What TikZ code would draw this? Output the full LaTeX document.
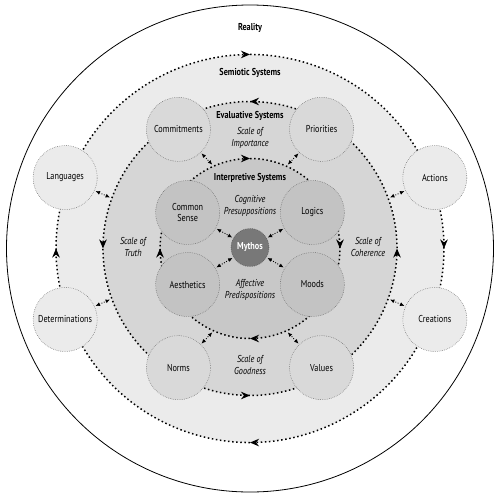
\documentclass[tikz,border=0pt]{standalone}
\usepackage{fontspec}
\setmainfont[FakeStretch=0.82]{PT Sans}
\usetikzlibrary{arrows.meta,decorations.markings}

\definecolor{semiofill}{HTML}{EBEBEB}
\definecolor{evalfill}{HTML}{D6D6D6}
\definecolor{evalnode}{HTML}{D9D9D9}
\definecolor{interfill}{HTML}{C8C8C8}
\definecolor{internode}{HTML}{C3C3C3}
\definecolor{mythfill}{HTML}{787878}

\begin{document}
\begin{tikzpicture}[x=1pt, y=1pt,
  every node/.style={font=\fontsize{10}{11}\selectfont, align=center},
  ring/.style={line width=1.5pt, dash pattern=on 1.5pt off 2.6pt, postaction={decorate},
    decoration={markings, mark=at position 0.5 with {\arrow{Stealth[length=9pt,width=7.5pt]}}}},
  bubble/.style={circle, draw=black!60, line width=0.5pt, dash pattern=on 0.6pt off 1.2pt,
    minimum size=64pt, inner sep=0pt},
  link/.style={{Latex[length=4.5pt,width=4pt]}-{Latex[length=4.5pt,width=4pt]},
    line width=0.9pt, dash pattern=on 0.9pt off 1.6pt, shorten <=1pt, shorten >=1pt},
  title/.style={font=\fontsize{10}{11}\selectfont\bfseries},
  scale label/.style={font=\fontsize{10}{12}\selectfont\itshape}]
	\useasboundingbox (-250,-250.5) rectangle (250,248.5);
	% layers
	\draw[line width=0.8pt] (0,0) circle[radius=243.5];
	\fill[semiofill] (0,0) circle[radius=194];
	\fill[evalfill] (0,0) circle[radius=147];
	\fill[interfill] (0,0) circle[radius=90];
	% semiotic ring (clockwise)
	\draw[ring] (159:194) arc[start angle=159, end angle=21, radius=194];
	\draw[ring] (21:194) arc[start angle=21, end angle=-21, radius=194];
	\draw[ring] (-21:194) arc[start angle=-21, end angle=-159, radius=194];
	\draw[ring] (201:194) arc[start angle=201, end angle=159, radius=194];
	% evaluative ring (counterclockwise)
	\draw[ring] (59:147) arc[start angle=59, end angle=121, radius=147];
	\draw[ring] (121:147) arc[start angle=121, end angle=239, radius=147];
	\draw[ring] (239:147) arc[start angle=239, end angle=301, radius=147];
	\draw[ring] (-59:147) arc[start angle=-59, end angle=59, radius=147];
	% interpretive ring (clockwise)
	\draw[ring] (150:90) arc[start angle=150, end angle=30, radius=90];
	\draw[ring] (30:90) arc[start angle=30, end angle=-30, radius=90];
	\draw[ring] (-30:90) arc[start angle=-30, end angle=-150, radius=90];
	\draw[ring] (210:90) arc[start angle=210, end angle=150, radius=90];
	% semiotic systems
	\node[bubble, fill=semiofill] (languages) at (159:198) {Languages};
	\node[bubble, fill=semiofill] (actions) at (21:198) {Actions};
	\node[bubble, fill=semiofill] (determinations) at (201:198) {Determinations};
	\node[bubble, fill=semiofill] (creations) at (-21:198) {Creations};
	% evaluative systems
	\node[bubble, fill=evalnode] (commitments) at (121:139) {Commitments};
	\node[bubble, fill=evalnode] (priorities) at (59:139) {Priorities};
	\node[bubble, fill=evalnode] (norms) at (239:139) {Norms};
	\node[bubble, fill=evalnode] (values) at (-59:139) {Values};
	% interpretive systems
	\node[bubble, fill=internode] (commonsense) at (150:72) {Common\\Sense};
	\node[bubble, fill=internode] (logics) at (30:72) {Logics};
	\node[bubble, fill=internode] (aesthetics) at (210:72) {Aesthetics};
	\node[bubble, fill=internode] (moods) at (-30:72) {Moods};
	\node[bubble, fill=mythfill, draw=black!70, minimum size=38pt, text=white, font=\fontsize{10}{11}\selectfont\bfseries] (mythos) at (0,1) {Mythos};
	% links to the next ring
	\coordinate (e-languages) at (160:148);
	\coordinate (e-actions) at (20:148);
	\coordinate (e-determinations) at (200:148);
	\coordinate (e-creations) at (-20:148);
	\coordinate (i-commitments) at (114:91);
	\coordinate (i-priorities) at (66:91);
	\coordinate (i-norms) at (246:91);
	\coordinate (i-values) at (-66:91);
	\draw[link] (languages) -- (e-languages);
	\draw[link] (actions) -- (e-actions);
	\draw[link] (determinations) -- (e-determinations);
	\draw[link] (creations) -- (e-creations);
	\draw[link] (commitments) -- (i-commitments);
	\draw[link] (priorities) -- (i-priorities);
	\draw[link] (norms) -- (i-norms);
	\draw[link] (values) -- (i-values);
	\draw[link] (commonsense) -- (mythos);
	\draw[link] (logics) -- (mythos);
	\draw[link] (aesthetics) -- (mythos);
	\draw[link] (moods) -- (mythos);
	% labels
	\node[title] (reality) at (0,220.5) {Reality};
	\node[title] (semiotic) at (0,175.5) {Semiotic Systems};
	\node[title] (evaluative) at (0,132.5) {Evaluative Systems};
	\node[scale label] (importance) at (0,110.5) {Scale of\\Importance};
	\node[title] (interpretive) at (0,70.5) {Interpretive Systems};
	\node[scale label] (cognitive) at (0,42.5) {Cognitive\\Presuppositions};
	\node[scale label] (affective) at (0,-41.5) {Affective\\Predispositions};
	\node[scale label] (truth) at (-117,1.5) {Scale of\\Truth};
	\node[scale label] (coherence) at (118,1.5) {Scale of\\Coherence};
	\node[scale label] (goodness) at (0,-116.5) {Scale of\\Goodness};
\end{tikzpicture}
\end{document}
